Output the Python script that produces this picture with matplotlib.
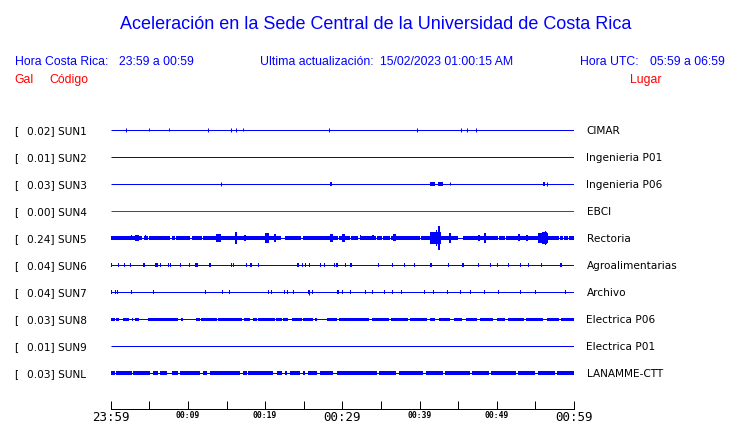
import matplotlib
import matplotlib.pyplot as plt
matplotlib.use("Agg")

W, H = 740, 423
BLUE = '#0000ff'
RED = '#ff0000'
PX = 0.72  # one pixel in points at dpi 100

stations = ['SUN1', 'SUN2', 'SUN3', 'SUN4', 'SUN5', 'SUN6', 'SUN7', 'SUN8', 'SUN9', 'SUNL']
places = ['CIMAR', 'Ingenieria P01', 'Ingenieria P06', 'EBCI', 'Rectoria',
          'Agroalimentarias', 'Archivo', 'Electrica P06', 'Electrica P01', 'LANAMME-CTT']
gal = [0.02, 0.01, 0.03, 0.00, 0.24, 0.04, 0.04, 0.03, 0.01, 0.03]
trace_colors = [BLUE, BLUE, BLUE, RED, BLUE, BLUE, BLUE, BLUE, BLUE, BLUE]

tick_minutes = [0, 10, 20, 30, 40, 50, 60]
tick_labels = ['23:59', '00:09', '00:19', '00:29', '00:39', '00:49', '00:59']
big_ticks = ['23:59', '00:29', '00:59']

# spikes: (minute, half amplitude)
sun1_spikes = [(1.94, 2), (5.0, 1.5), (7.59, 1.5), (12.64, 2), (15.62, 2), (16.27, 2),
               (17.17, 1.5), (28.3, 2), (39.7, 2), (45.4, 2), (46.18, 2), (47.35, 2)]
sun3_spikes = [(14.32, 2), (43.98, 1.5), (56.54, 2)]
sun3_blocks = [(28.4, 28.7, 2), (41.35, 42.0, 2.3), (42.35, 43.0, 2.3), (55.94, 56.2, 2.3)]

# SUN5: thick trace with thin gaps, plus bursts (start, end, half amplitude)
sun5_gaps = [(4.1, 4.25), (4.8, 4.95), (7.7, 7.9), (8.3, 8.45), (10.3, 10.5), (11.8, 11.95),
             (22.1, 22.6), (24.7, 24.85), (29.4, 29.55), (31.0, 31.15), (32.0, 32.3),
             (34.4, 34.55), (35.1, 35.25), (36.2, 36.35), (40.05, 40.2), (45.0, 45.6),
             (50.1, 50.3), (51.0, 51.2), (58.0, 58.15), (58.6, 58.75), (59.2, 59.35)]
sun5_bursts = [(2.65, 2.8, 2.5), (3.1, 3.7, 3.3), (4.4, 4.55, 2.5), (13.7, 14.3, 4.3),
               (16.1, 16.3, 5.7), (17.3, 17.5, 3), (19.95, 20.45, 5.3), (21.2, 21.4, 4),
               (28.45, 28.75, 4), (29.9, 30.35, 4), (32.25, 32.4, 2.5), (33.9, 34.05, 2.5),
               (36.5, 36.9, 3.5), (41.35, 42.8, 6), (42.1, 42.3, 8), (42.4, 42.6, 12),
               (43.85, 44.05, 5), (47.6, 47.8, 3), (48.35, 48.65, 5), (52.75, 53.05, 3.5),
               (53.8, 54.0, 3), (55.3, 56.6, 5), (55.8, 56.5, 6), (56.2, 56.4, 7)]

# SUN6 / SUN7: small blocks (start, width)
sun6_blocks = [(0.0, 0.15), (0.98, 0.15), (1.76, 0.15), (2.5, 0.15), (4.14, 0.3), (5.74, 0.35),
               (6.38, 0.15), (7.46, 0.15), (7.72, 0.15), (9.01, 0.15), (10.18, 0.15),
               (10.92, 0.35), (12.73, 0.2), (13.86, 0.1), (15.54, 0.15), (15.84, 0.15),
               (17.48, 0.2), (18.04, 0.2), (19.04, 0.2), (24.13, 0.25), (24.73, 0.15),
               (25.16, 0.15), (25.68, 0.1), (27.1, 0.15), (27.66, 0.15), (28.88, 0.15),
               (29.18, 0.2), (30.34, 0.15), (31.0, 0.2), (34.6, 0.15), (36.4, 0.2),
               (38.0, 0.15), (39.3, 0.15), (41.35, 0.2), (43.7, 0.15), (45.5, 0.2),
               (47.6, 0.15), (49.1, 0.15), (50.0, 0.2), (51.45, 0.15), (53.0, 0.2),
               (54.05, 0.15), (55.7, 0.15), (58.2, 0.2)]
sun7_blocks = [(0.04, 0.15), (0.56, 0.1), (0.82, 0.1), (2.63, 0.1), (5.44, 0.21), (7.9, 0.1),
               (9.32, 0.1), (12.25, 0.1), (14.41, 0.15), (15.36, 0.1), (20.2, 0.1),
               (20.41, 0.1), (20.72, 0.21), (22.48, 0.1), (22.83, 0.15), (23.57, 0.15),
               (25.59, 0.22), (26.11, 0.1), (29.34, 0.22), (29.91, 0.15), (31.0, 0.15),
               (32.93, 0.1), (33.84, 0.15), (35.4, 0.15), (36.4, 0.1), (37.6, 0.15),
               (40.57, 0.15), (41.74, 0.1), (43.55, 0.15), (45.24, 0.1), (46.5, 0.15),
               (48.35, 0.1), (50.16, 0.15), (53.0, 0.1), (54.95, 0.15), (58.84, 0.1)]
sun7_spikes = [(25.7, 3)]

# SUN8 / SUNL: thick segments (start, end)
sun8_thick = [(0.0, 0.56), (0.69, 1.11), (1.63, 2.41), (2.72, 2.93), (3.15, 3.7), (4.79, 8.75),
              (9.1, 9.3), (11.0, 11.56), (11.7, 13.73), (13.93, 16.96), (17.3, 18.04),
              (18.47, 18.9), (19.1, 21.28), (21.4, 22.14), (22.35, 23.0), (23.44, 24.73),
              (24.94, 26.24), (26.5, 26.7), (27.97, 29.27), (29.6, 33.5), (33.8, 36.0),
              (36.3, 38.5), (38.8, 41.0), (41.3, 42.0), (42.5, 44.0), (44.4, 45.5),
              (46.0, 47.5), (47.8, 49.5), (50.0, 51.0), (51.5, 53.5), (53.8, 56.0),
              (56.5, 58.0), (58.3, 60.0)]
sunl_thick = [(0.0, 0.56), (0.69, 2.72), (2.93, 5.09), (5.52, 6.16), (6.38, 7.25), (7.9, 8.75),
              (8.97, 11.56), (12.0, 12.43), (12.86, 16.74), (17.17, 17.6), (17.82, 21.06),
              (21.5, 22.14), (22.57, 22.79), (23.2, 24.5), (24.94, 25.16), (25.59, 26.67),
              (27.1, 28.83), (29.27, 34.5), (34.8, 37.0), (37.3, 40.5), (40.8, 43.0),
              (43.3, 46.5), (46.8, 49.0), (49.3, 52.5), (52.8, 55.0), (55.3, 57.5),
              (57.8, 60.0)]

ROW = 27  # pixels between traces


def px(x, y):
    return x / W, 1 - y / H


fig = plt.figure(figsize=(W / 100, H / 100), dpi=100)
ax = fig.add_axes([110.7 / W, (H - 409) / H, (574 - 110.7) / W, (409 - 117) / H])
ax.set_xlim(0, 60)
ax.set_ylim(279, -13)

for i, st in enumerate(stations):
    y = i * ROW
    c = trace_colors[i]
    ax.hlines(y, 0, 60, color=c, lw=PX)

ys = {st: i * ROW for i, st in enumerate(stations)}

for t, a in sun1_spikes:
    ax.vlines(t, ys['SUN1'] - a, ys['SUN1'] + a, color=BLUE, lw=PX)
for t, a in sun3_spikes:
    ax.vlines(t, ys['SUN3'] - a, ys['SUN3'] + a, color=BLUE, lw=PX)
for s, e, a in sun3_blocks:
    ax.broken_barh([(s, e - s)], (ys['SUN3'] - a, 2 * a), color=BLUE, lw=0)

# SUN5 thick band = complement of the gaps
segs = []
prev = 0.0
for s, e in sun5_gaps:
    segs.append((prev, s - prev))
    prev = e
segs.append((prev, 60 - prev))
ax.broken_barh(segs, (ys['SUN5'] - 1.9, 3.8), color=BLUE, lw=0)
for s, e, a in sun5_bursts:
    ax.broken_barh([(s, e - s)], (ys['SUN5'] - a, 2 * a), color=BLUE, lw=0)

ax.broken_barh(sun6_blocks, (ys['SUN6'] - 2, 4), color=BLUE, lw=0)
ax.broken_barh(sun7_blocks, (ys['SUN7'] - 1.8, 3.6), color=BLUE, lw=0)
for t, a in sun7_spikes:
    ax.vlines(t, ys['SUN7'] - 1, ys['SUN7'] + a, color=BLUE, lw=PX)

ax.broken_barh([(s, e - s) for s, e in sun8_thick], (ys['SUN8'] - 1.5, 3), color=BLUE, lw=0)
ax.broken_barh([(s, e - s) for s, e in sunl_thick], (ys['SUNL'] - 1.6, 3.2), color=BLUE, lw=0)

# time axis
for sp in ['top', 'left', 'right']:
    ax.spines[sp].set_visible(False)
ax.spines['bottom'].set_linewidth(PX)
ax.set_yticks([])
ax.set_xticks(tick_minutes, tick_labels)
ax.set_xticks(range(5, 60, 10), minor=True)
ax.tick_params(which='both', direction='in', length=8 * PX, width=PX, pad=1.5)
for lbl in ax.get_xticklabels():
    lbl.set_family('DejaVu Sans Mono')
    if lbl.get_text() in big_ticks:
        lbl.set_fontsize(9)
    else:
        lbl.set_fontsize(5.8)
        lbl.set_fontweight('bold')

# row labels
for i, st in enumerate(stations):
    yb = 130 + i * ROW + 3.9
    fig.text(*px(14.2, yb), '[', fontsize=7.6, va='baseline', ha='left')
    fig.text(*px(26.6, yb), '%.2f] %s' % (gal[i], st), fontsize=7.6, va='baseline', ha='left')
    fig.text(*px(586.5, yb), places[i], fontsize=7.6, va='baseline', ha='left')

hf = dict(family='Liberation Sans', fontsize=8.8, va='baseline', ha='left')
fig.text(*px(376, 29), 'Aceleración en la Sede Central de la Universidad de Costa Rica',
         family='Liberation Sans', fontsize=13, color=BLUE, ha='center', va='baseline')
fig.text(*px(14.8, 65), 'Hora Costa Rica:', color=BLUE, **hf)
fig.text(*px(119.5, 65), '23:59 a 00:59', color=BLUE, **hf)
fig.text(*px(259.5, 65), 'Ultima actualización:', color=BLUE, **hf)
fig.text(*px(380, 65), '15/02/2023 01:00:15 AM', color=BLUE, **hf)
fig.text(*px(580, 65), 'Hora UTC:', color=BLUE, **hf)
fig.text(*px(650, 65), '05:59 a 06:59', color=BLUE, **hf)
fig.text(*px(14.8, 83), 'Gal', color=RED, **hf)
fig.text(*px(49.8, 83), 'Código', color=RED, **hf)
fig.text(*px(630, 83), 'Lugar', color=RED, **hf)

fig.savefig('out.png', dpi=100)
